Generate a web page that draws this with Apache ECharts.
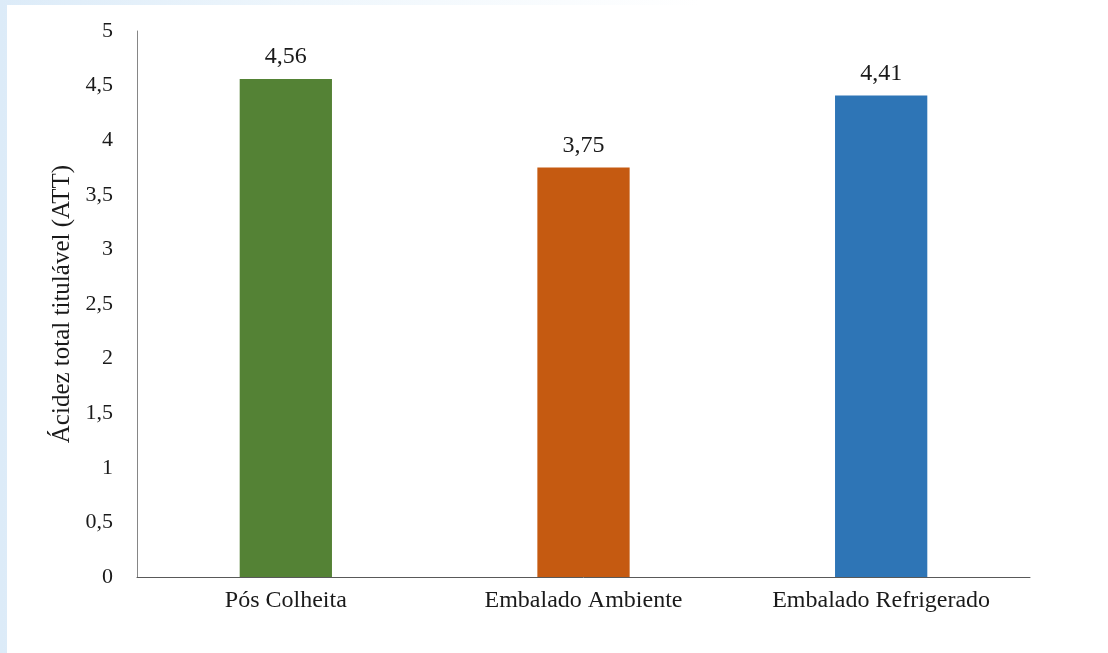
<!DOCTYPE html>
<html>
<head>
<meta charset="utf-8">
<script src="https://cdn.jsdelivr.net/npm/echarts@6/dist/echarts.min.js"></script>
<style>
  html, body { margin: 0; padding: 0; }
  body {
    width: 1108px; height: 653px;
    background: linear-gradient(to right, #dcebf8 0px, #eef6fc 300px, #ffffff 700px);
    position: relative; overflow: hidden;
  }
  #panel {
    position: absolute; left: 7px; top: 5px; right: 0; bottom: 0;
    background: #ffffff;
  }
  #chart { width: 1101px; height: 648px; }
</style>
</head>
<body>
<div id="panel"><div id="chart"></div></div>
<script>
// dados
const categorias = ['Pós Colheita', 'Embalado Ambiente', 'Embalado Refrigerado']
const valores = [4.56, 3.75, 4.41]
const cores = ['#548235', '#C55A11', '#2E75B6']

const fmt = v => String(v).replace('.', ',')

const chart = echarts.init(document.getElementById('chart'))

const option = {
  animation: false,
  textStyle: { fontFamily: 'Liberation Serif' },
  grid: { left: 130, right: 78, top: 26, bottom: 76 },
  xAxis: {
    type: 'category',
    data: categorias,
    axisLine: { lineStyle: { color: '#595959', width: 1 } },
    axisTick: { show: false },
    axisLabel: { color: '#1a1a1a', fontSize: 24, margin: 12, fontFamily: 'Liberation Serif' }
  },
  yAxis: {
    type: 'value',
    min: 0,
    max: 5,
    interval: 0.5,
    name: 'Ácidez total titulável (ATT)',
    nameLocation: 'middle',
    nameGap: 57,
    nameTextStyle: { color: '#1a1a1a', fontSize: 25, fontFamily: 'Liberation Serif' },
    axisLine: { show: true, lineStyle: { color: '#868686', width: 1 } },
    axisTick: { show: false },
    splitLine: { show: false },
    axisLabel: {
      color: '#1a1a1a', fontSize: 22, margin: 24, fontFamily: 'Liberation Serif',
      formatter: v => fmt(v)
    }
  },
  series: [{
    type: 'bar',
    barWidth: '31%',
    data: valores.map((v, i) => ({ value: v, itemStyle: { color: cores[i] } })),
    label: {
      show: true,
      position: 'top',
      distance: 10,
      color: '#1a1a1a',
      fontSize: 24,
      fontFamily: 'Liberation Serif',
      formatter: p => fmt(p.value)
    }
  }]
}

chart.setOption(option)
</script>
</body>
</html>
